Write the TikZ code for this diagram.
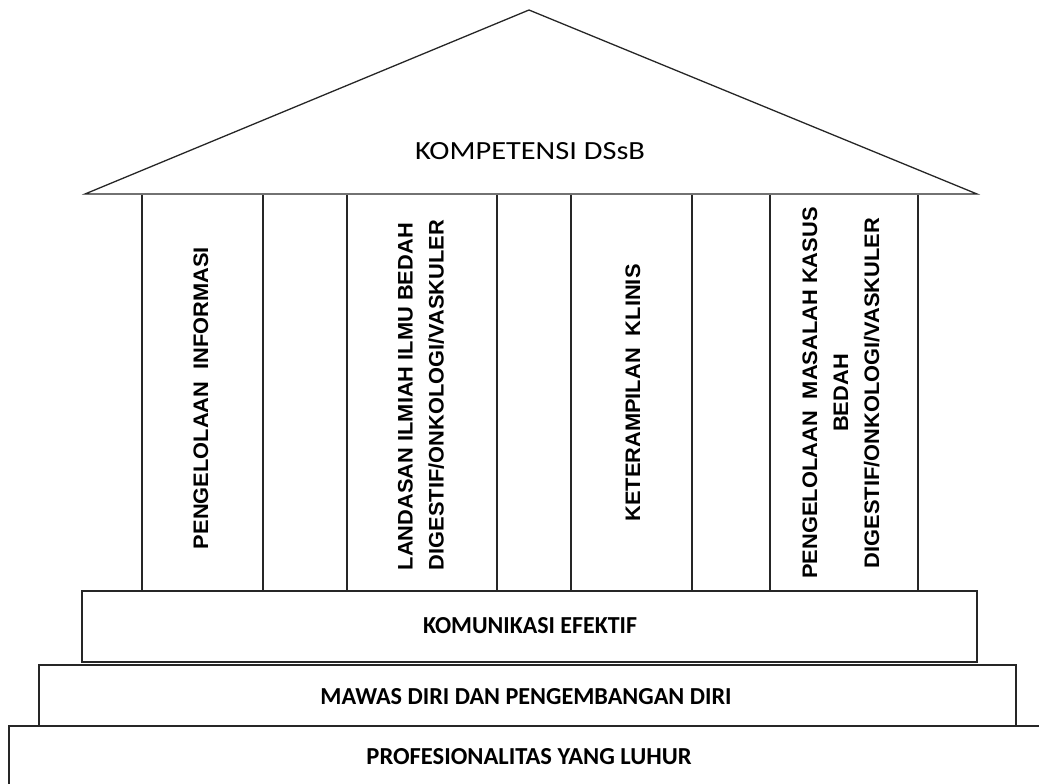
\documentclass[tikz,border=0pt]{standalone}
\usepackage{fontspec}
\setmainfont{Liberation Sans}
\newfontfamily\calfont{Carlito}
\newcommand{\fitbox}[3]{\resizebox{#1pt}{#2pt}{\calfont #3}}
\newcommand{\fitboxb}[3]{\resizebox{#1pt}{#2pt}{\calfont\bfseries #3}}
\begin{document}
\begin{tikzpicture}[x=1pt,y=-1pt,
  edge/.style={line width=1.3pt,black!85},
  coltext/.style={rotate=90,xscale=1.04,font=\fontsize{21}{31}\selectfont\bfseries,inner sep=0pt},
  band/.style={inner sep=0pt}]
\useasboundingbox (0,0) rectangle (1039,784);
\begin{scope}
\clip (0,0) rectangle (1039,784);
% roof
\draw[edge,line join=miter] (85,194) -- (529,10) -- (977,194) -- cycle;
% columns
\foreach \x in {142,263,347,497,571,692,770,918}
  \draw[edge] (\x,195) -- (\x,591);
% bands
\draw[edge] (82,591) rectangle (977,662);
\draw[edge] (39,665) rectangle (1016,726);
\draw[edge] (1045,726) -- (9,726) -- (9,790);
\end{scope}
% texts
\node[band] (roof) at (530,151) {\fitbox{230}{17}{KOMPETENSI DSsB}};
\node[coltext] (c1) at (201,398) {PENGELOLAAN\ \ INFORMASI};
\node[coltext,align=left] (c2) at (421,395) {LANDASAN ILMIAH ILMU BEDAH\\DIGESTIF/ONKOLOGI/VASKULER};
\node[coltext] (c3) at (633,393) {KETERAMPILAN\ \ KLINIS};
\node[coltext,align=center] (c4) at (841,393) {PENGELOLAAN\ \ MASALAH KASUS\\BEDAH\\DIGESTIF/ONKOLOGI/VASKULER};
\node[band] (b1) at (530,626) {\fitboxb{214}{16}{KOMUNIKASI EFEKTIF}};
\node[band] (b2) at (526,697) {\fitboxb{411}{16}{MAWAS DIRI DAN PENGEMBANGAN DIRI}};
\node[band] (b3) at (529,757) {\fitboxb{325}{16}{PROFESIONALITAS YANG LUHUR}};
\end{tikzpicture}
\end{document}
